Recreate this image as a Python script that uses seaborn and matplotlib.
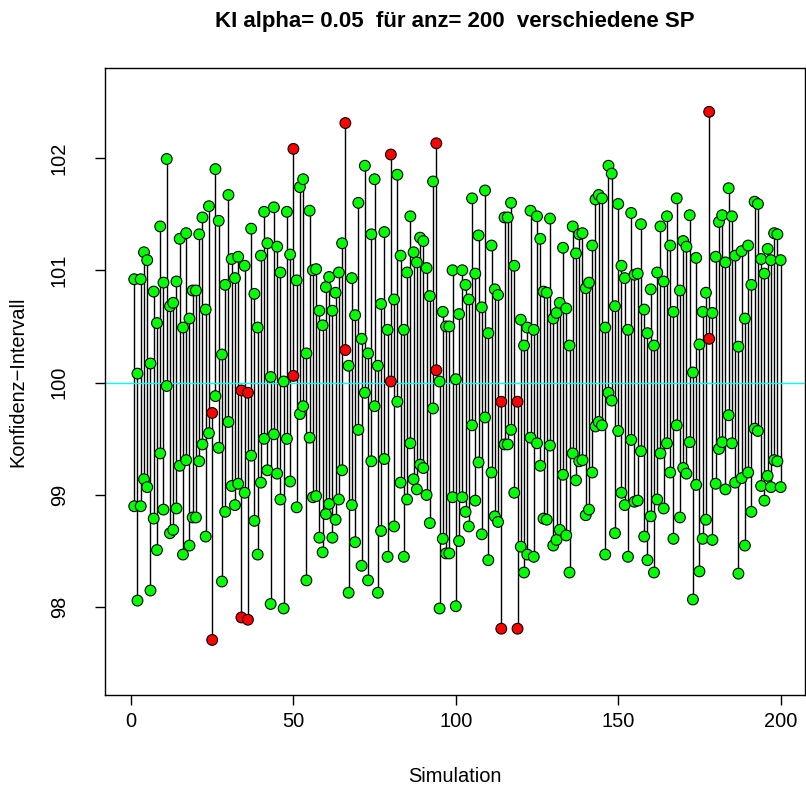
import numpy as np
import pandas as pd
import matplotlib
matplotlib.use("Agg")
import matplotlib.pyplot as plt
import seaborn as sns

# true mean and half width of the confidence interval
mu = 100
half_width = 1.01

# upper confidence limits of the 200 simulated samples
upper = [
    100.92, 100.08, 100.92, 101.16, 101.09, 100.17, 100.81, 100.53, 101.39, 100.89,
    101.99, 100.68, 100.71, 100.90, 101.28, 100.49, 101.33, 100.57, 100.82, 100.82,
    101.32, 101.47, 100.65, 101.57, 99.73, 101.90, 101.44, 100.25, 100.87, 101.67,
    101.10, 100.93, 101.12, 99.93, 101.04, 99.91, 101.37, 100.79, 100.49, 101.13,
    101.52, 101.24, 100.05, 101.56, 101.21, 100.98, 100.01, 101.52, 101.14, 102.08,
    100.91, 101.74, 101.81, 100.26, 101.53, 101.00, 101.01, 100.64, 100.51, 100.85,
    100.94, 100.64, 100.80, 100.98, 101.24, 102.31, 100.15, 100.93, 100.60, 101.60,
    100.39, 101.93, 100.26, 101.32, 101.81, 100.15, 100.70, 101.34, 100.47, 102.03,
    100.74, 101.85, 101.13, 100.47, 100.98, 101.48, 101.16, 101.07, 101.29, 101.26,
    101.02, 100.77, 101.79, 102.13, 100.01, 100.63, 100.50, 100.50, 101.00, 100.03,
    100.61, 101.00, 100.87, 100.74, 101.64, 100.97, 101.31, 100.67, 101.71, 100.44,
    101.22, 100.83, 100.78, 99.83, 101.47, 101.47, 101.60, 101.04, 99.83, 100.56,
    100.33, 100.49, 101.53, 100.47, 101.48, 101.28, 100.81, 100.80, 101.46, 100.57,
    100.62, 100.71, 101.20, 100.66, 100.33, 101.39, 101.15, 101.32, 101.33, 100.84,
    100.89, 101.22, 101.63, 101.67, 101.64, 100.49, 101.93, 101.86, 100.68, 101.59,
    101.04, 100.93, 100.47, 101.51, 100.96, 100.97, 101.41, 100.65, 100.44, 100.83,
    100.33, 100.98, 101.39, 100.90, 101.48, 101.22, 100.63, 101.64, 100.82, 101.26,
    101.21, 101.49, 100.09, 101.11, 100.34, 100.63, 100.80, 102.41, 100.62, 101.12,
    101.43, 101.49, 101.07, 101.73, 101.48, 101.13, 100.32, 101.17, 100.57, 101.22,
    100.87, 101.61, 101.59, 101.10, 100.97, 101.19, 101.09, 101.33, 101.32, 101.09,
]
sim = np.arange(1, len(upper) + 1)
x_ticks = [0, 50, 100, 150, 200]
y_ticks = [98, 99, 100, 101, 102]

df = pd.DataFrame({"Simulation": sim, "upper": upper})
df["lower"] = df["upper"] - 2 * half_width
df["hit"] = (df["lower"] <= mu) & (df["upper"] >= mu)

points = pd.concat([
    df[["Simulation", "lower", "hit"]].rename(columns={"lower": "value"}),
    df[["Simulation", "upper", "hit"]].rename(columns={"upper": "value"}),
])

sns.set_style("ticks")
plt.rcParams["font.family"] = ["Liberation Sans", "DejaVu Sans"]
plt.rcParams["text.color"] = "black"
plt.rcParams["axes.labelcolor"] = "black"

fig = plt.figure(figsize=(8.06, 7.93), dpi=100)
ax = fig.add_axes([105 / 806, 1 - 695 / 793, 700 / 806, 627 / 793])

ax.vlines(df["Simulation"], df["lower"], df["upper"], color="black", lw=1, zorder=1)
ax.axhline(mu, color="#00FFFF", lw=1, zorder=2)
sns.scatterplot(data=points, x="Simulation", y="value", hue="hit",
                palette={True: "#00FF00", False: "#FF0000"},
                edgecolor="black", linewidth=0.8, s=60, legend=False,
                ax=ax, zorder=3)

ax.set_xlim(-8, 207.5)
ax.set_ylim(97.22, 102.80)
ax.set_xticks(x_ticks)
ax.set_yticks(y_ticks)
for s in ax.spines.values():
    s.set_visible(True)
    s.set_color("black")
    s.set_linewidth(1)
ax.tick_params(axis="both", direction="out", length=7, width=1, colors="black",
               labelsize=14.4)
ax.tick_params(axis="x", pad=5)
ax.tick_params(axis="y", pad=19)
for lab in ax.get_yticklabels():
    lab.set_rotation(90)
    lab.set_va("center")

ax.set_xlabel("Simulation", fontsize=14.4, color="black")
ax.set_ylabel("Konfidenz−Intervall", fontsize=14.4, color="black")
ax.xaxis.set_label_coords(0.5, -(776 - 695) / 627)
ax.xaxis.label.set_va("center")
ax.yaxis.set_label_coords(-(105 - 18) / 700, 0.5)
ax.yaxis.label.set_va("center")

fig.text(455 / 806, 1 - 22 / 793, "KI alpha= 0.05  für anz= 200  verschiedene SP",
         ha="center", va="center", fontsize=16, fontweight="bold", color="black")

fig.savefig("out.png", dpi=100)
